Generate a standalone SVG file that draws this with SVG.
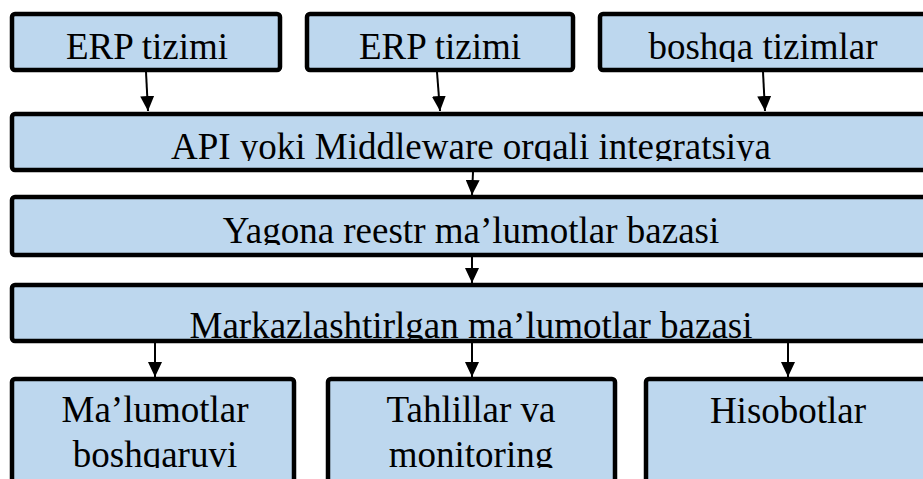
<svg xmlns="http://www.w3.org/2000/svg" width="923" height="479" viewBox="0 0 923 479">
<style>
.box{fill:#BDD7EE;stroke:#000;stroke-width:4.5}
.t{font-family:"Liberation Serif","Times New Roman",serif;font-size:37px;fill:#000;text-anchor:middle}
.c{stroke:#000;stroke-width:2;fill:none;marker-end:url(#ah)}
</style>
<defs>
<marker id="ah" markerWidth="15" markerHeight="14" refX="15" refY="7" orient="auto" markerUnits="userSpaceOnUse" viewBox="0 0 15 14">
<path d="M0,0 L15,7 L0,14 Z" fill="#000"/>
</marker>
<clipPath id="cTop"><rect x="0" y="0" width="923" height="62"/></clipPath>
<clipPath id="cApi"><rect x="0" y="112" width="923" height="49"/></clipPath>
<clipPath id="cYag"><rect x="0" y="195" width="923" height="50"/></clipPath>
<clipPath id="cMar"><rect x="0" y="283" width="923" height="57"/></clipPath>
<clipPath id="cBot"><rect x="0" y="377" width="923" height="91"/></clipPath>
</defs>
<rect width="923" height="479" fill="#fff"/>
<g id="connectors">
<line class="c" x1="146" y1="72" x2="148" y2="111"/>
<line class="c" x1="437" y1="72" x2="440" y2="111"/>
<line class="c" x1="763" y1="72" x2="765" y2="111"/>
<line class="c" x1="473" y1="172" x2="472" y2="195"/>
<line class="c" x1="472" y1="257" x2="472" y2="283"/>
<line class="c" x1="155" y1="343" x2="155" y2="377"/>
<line class="c" x1="472" y1="343" x2="472" y2="377"/>
<line class="c" x1="788" y1="343" x2="788" y2="377"/>
</g>
<g id="erp1"><rect class="box" x="12" y="14" width="268" height="56" rx="3"/><text class="t" x="147" y="59" clip-path="url(#cTop)">ERP tizimi</text></g>
<g id="erp2"><rect class="box" x="307" y="14" width="266" height="56" rx="3"/><text class="t" x="440" y="59" clip-path="url(#cTop)">ERP tizimi</text></g>
<g id="boshqa"><rect class="box" x="600" y="14" width="326" height="56" rx="3"/><text class="t" x="763" y="59" clip-path="url(#cTop)">boshqa tizimlar</text></g>
<g id="api"><rect class="box" x="12" y="114" width="918" height="56" rx="3"/><text class="t" x="471" y="159" clip-path="url(#cApi)">API yoki Middleware orqali integratsiya</text></g>
<g id="yagona"><rect class="box" x="12" y="197" width="918" height="58" rx="3"/><text class="t" x="471" y="243" clip-path="url(#cYag)">Yagona reestr ma’lumotlar bazasi</text></g>
<g id="markaz"><rect class="box" x="12" y="285" width="918" height="56" rx="3"/><text class="t" x="471" y="338" clip-path="url(#cMar)">Markazlashtirlgan ma’lumotlar bazasi</text></g>
<g id="malumot"><rect class="box" x="12" y="379" width="282" height="130" rx="3"/><text class="t" x="155" y="422" clip-path="url(#cBot)"><tspan x="155">Ma’lumotlar</tspan><tspan x="155" y="467">boshqaruvi</tspan></text></g>
<g id="tahlil"><rect class="box" x="328" y="379" width="287" height="130" rx="3"/><text class="t" x="471" y="422" clip-path="url(#cBot)"><tspan x="471">Tahlillar va</tspan><tspan x="471" y="467">monitoring</tspan></text></g>
<g id="hisobot"><rect class="box" x="646" y="379" width="284" height="130" rx="3"/><text class="t" x="788" y="423" clip-path="url(#cBot)">Hisobotlar</text></g>
</svg>
